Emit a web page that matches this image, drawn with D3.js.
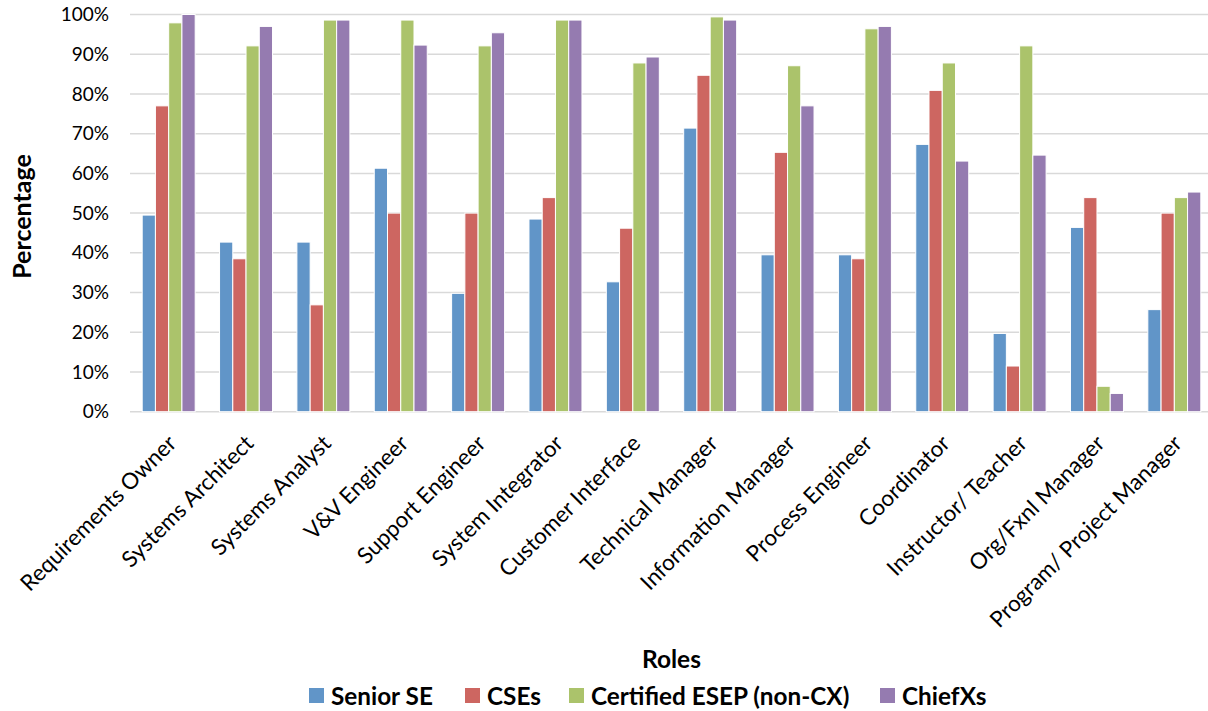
<!DOCTYPE html>
<html>
<head>
<meta charset="utf-8">
<script src="https://cdn.jsdelivr.net/npm/d3@7"></script>
<style>
  body { margin: 0; background: #fff; }
  svg { font-family: Lato, "Open Sans", sans-serif; }
</style>
</head>
<body>
<div id="chart"></div>
<script>
// roles along the x axis
const roles = ["Requirements Owner", "Systems Architect", "Systems Analyst", "V&V Engineer",
  "Support Engineer", "System Integrator", "Customer Interface", "Technical Manager",
  "Information Manager", "Process Engineer", "Coordinator", "Instructor/ Teacher",
  "Org/Fxnl Manager", "Program/ Project Manager"];

const seriesNames = ["Senior SE", "CSEs", "Certified ESEP (non-CX)", "ChiefXs"];

// percentages
const seniorSE = [49.5, 42.7, 42.7, 61.3, 29.8, 48.5, 32.7, 71.4, 39.5, 39.5, 67.3, 19.7, 46.4, 25.7];
const cses = [77.0, 38.5, 26.9, 50.0, 50.0, 53.9, 46.2, 84.7, 65.3, 38.5, 80.9, 11.5, 53.9, 50.0];
const esep = [97.9, 92.1, 98.6, 98.6, 92.1, 98.6, 87.8, 99.4, 87.1, 96.4, 87.8, 92.1, 6.4, 53.9];
const chiefXs = [100, 97.0, 98.6, 92.3, 95.4, 98.6, 89.3, 98.6, 77.0, 97.0, 63.1, 64.6, 4.6, 55.3];

const yTicks = [0, 10, 20, 30, 40, 50, 60, 70, 80, 90, 100];

const colors = ["#6195c8", "#cd6661", "#abc36b", "#957bb0"];

const W = 1208, H = 711;
const margin = { top: 14.5, right: -5, bottom: 299.3, left: 130 };
const width = W - margin.left - margin.right,
  height = H - margin.top - margin.bottom;

const svg = d3.select("#chart")
  .append("svg")
  .attr("width", W)
  .attr("height", H);

const g = svg.append("g")
  .attr("transform", `translate(${margin.left},${margin.top})`);

const allSeries = [seniorSE, cses, esep, chiefXs];
const data = roles.map((r, i) => ({ role: r, values: allSeries.map(s => s[i]) }));

const x0 = d3.scaleBand()
  .domain(roles)
  .range([0, width])
  .paddingInner(0.315)
  .paddingOuter(0.1575);

const x1 = d3.scaleBand()
  .domain(seriesNames)
  .range([0, x0.bandwidth()]);

const y = d3.scaleLinear()
  .domain([0, 100])
  .range([height, 0]);

// gridlines
g.selectAll(".grid")
  .data(yTicks)
  .join("line")
  .attr("class", "grid")
  .attr("x1", 0)
  .attr("x2", width)
  .attr("y1", d => y(d))
  .attr("y2", d => y(d))
  .attr("stroke", "#d9d9d9")
  .attr("stroke-width", 1.5);

// y axis labels
const yAxis = g.append("g")
  .call(d3.axisLeft(y).tickValues(yTicks).tickFormat(d => d + "%").tickSize(0).tickPadding(21));
yAxis.select(".domain").remove();
yAxis.selectAll("text")
  .attr("font-family", "Lato, sans-serif")
  .attr("font-size", 19)
  .attr("fill", "#000");

// bars
const groups = g.selectAll(".group")
  .data(data)
  .join("g")
  .attr("class", "group")
  .attr("transform", d => `translate(${x0(d.role)},0)`);

groups.selectAll("rect")
  .data(d => d.values.map((v, k) => ({ key: seriesNames[k], value: v, k: k })))
  .join("rect")
  .attr("x", d => x1(d.key))
  .attr("y", d => y(d.value))
  .attr("width", x1.bandwidth())
  .attr("height", d => height - y(d.value))
  .attr("fill", d => colors[d.k])
  .attr("stroke", "#fff")
  .attr("stroke-width", 1);

// x axis labels, rotated
const xAxis = g.append("g")
  .attr("transform", `translate(0,${height})`)
  .call(d3.axisBottom(x0).tickSize(0).tickPadding(0));
xAxis.select(".domain").remove();
xAxis.selectAll("text")
  .attr("font-family", "Lato, sans-serif")
  .attr("font-size", 22.4)
  .attr("fill", "#000")
  .attr("text-anchor", "end")
  .attr("dy", "0")
  .attr("y", 0)
  .attr("transform", "translate(9,33) rotate(-45)");

// axis titles
svg.append("text")
  .attr("transform", `translate(31,${margin.top + 202}) rotate(-90)`)
  .attr("text-anchor", "middle")
  .attr("font-weight", "bold")
  .attr("font-size", 25)
  .text("Percentage");

svg.append("text")
  .attr("x", 671.5)
  .attr("y", 668)
  .attr("text-anchor", "middle")
  .attr("font-weight", "bold")
  .attr("font-size", 24.5)
  .text("Roles");

// legend
const legendX = [309, 465, 569, 880];
const legend = svg.append("g")
  .selectAll("g")
  .data(seriesNames)
  .join("g")
  .attr("transform", (d, i) => `translate(${legendX[i]},688)`);

legend.append("rect")
  .attr("width", 15)
  .attr("height", 15)
  .attr("fill", (d, i) => colors[i]);

legend.append("text")
  .attr("x", 22)
  .attr("y", 17)
  .attr("font-weight", "bold")
  .attr("font-size", 24.3)
  .text(d => d);
</script>
</body>
</html>
